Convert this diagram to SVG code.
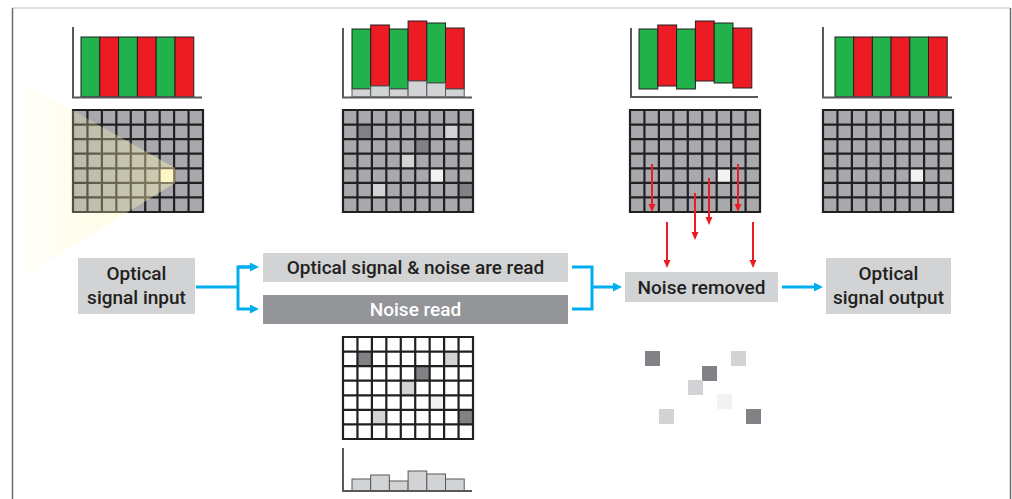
<svg xmlns="http://www.w3.org/2000/svg" width="1012" height="499" viewBox="0 0 1012 499">
<style>
.lbl{font-family:Roboto,"Open Sans",sans-serif;font-weight:500;font-size:19px;fill:#231f20;text-anchor:middle}
.lblw{fill:#ffffff}
.box{fill:#d1d3d4}
.boxd{fill:#939598}
.blue{fill:none;stroke:#00aeef;stroke-width:3}
.red{fill:none;stroke:#ed1c24;stroke-width:2}
.axis{fill:none;stroke:#58595b;stroke-width:2}
.g{fill:#21b24b;stroke:#231f20;stroke-width:1}
.r{fill:#ed1c24;stroke:#231f20;stroke-width:1}
.n{fill:#d1d3d4;stroke:#58595b;stroke-width:1}
.cell{fill:#a7a9ac}
.dk{fill:#808285}
.lt{fill:#d1d3d4}
.vl{fill:#f1f2f2}
</style>
<defs>
<marker id="ab" markerUnits="userSpaceOnUse" markerWidth="10" markerHeight="10" refX="1" refY="4.5" orient="auto"><path d="M0,0L9,4.5L0,9Z" fill="#00aeef"/></marker>
<marker id="ar" markerUnits="userSpaceOnUse" markerWidth="9" markerHeight="8" refX="1" refY="3.5" orient="auto"><path d="M0,0L8,3.5L0,7Z" fill="#ed1c24"/></marker>
<linearGradient id="beam" x1="0" y1="0" x2="1" y2="0">
<stop offset="0" stop-color="#fff7b6" stop-opacity="0.08"/>
<stop offset="0.5" stop-color="#fff7b6" stop-opacity="0.3"/>
<stop offset="1" stop-color="#fff7b6" stop-opacity="0.45"/>
</linearGradient>
<path id="gl" d="M0,0H130V102H0Z M14.44,0V102 M28.89,0V102 M43.33,0V102 M57.78,0V102 M72.22,0V102 M86.67,0V102 M101.11,0V102 M115.56,0V102 M0,14.57H130 M0,29.14H130 M0,43.71H130 M0,58.29H130 M0,72.86H130 M0,87.43H130" fill="none" stroke="#231f20" stroke-width="2.2"/>
<g id="nc">
<rect class="dk" x="14.44" y="14.57" width="14.45" height="14.57"/>
<rect class="lt" x="101.11" y="14.57" width="14.45" height="14.57"/>
<rect class="dk" x="72.22" y="29.14" width="14.45" height="14.57"/>
<rect class="lt" x="57.78" y="43.71" width="14.45" height="14.57"/>
<rect class="vl" x="86.67" y="58.29" width="14.45" height="14.57"/>
<rect class="lt" x="28.89" y="72.86" width="14.45" height="14.57"/>
<rect class="dk" x="115.56" y="72.86" width="14.45" height="14.57"/>
</g>
</defs>
<rect width="1012" height="499" fill="#ffffff"/>
<g id="frame">
<line x1="12" y1="8" x2="1010" y2="8" stroke="#bcbec0" stroke-width="1"/>
<line x1="12.5" y1="8" x2="12.5" y2="499" stroke="#6d6e71" stroke-width="1.5"/>
<line x1="1010.5" y1="8" x2="1010.5" y2="499" stroke="#6d6e71" stroke-width="1.5"/>
</g>
<g id="chart1">
<rect class="g" x="81" y="37" width="18.8" height="60"/>
<rect class="r" x="99.8" y="37" width="18.8" height="60"/>
<rect class="g" x="118.6" y="37" width="18.8" height="60"/>
<rect class="r" x="137.4" y="37" width="18.8" height="60"/>
<rect class="g" x="156.2" y="37" width="18.8" height="60"/>
<rect class="r" x="175" y="37" width="18.8" height="60"/>
<path class="axis" d="M73,27V97.5H202"/>
</g>
<g id="grid1" transform="translate(73,110)">
<rect class="cell" width="130" height="102"/>
<use href="#gl"/>
</g>
<g id="beam-light">
<polygon points="24,83 175,168 175,183 24,276" fill="url(#beam)"/>
<rect x="160.7" y="169.3" width="12.4" height="12.6" fill="#fff6c4"/>
</g>
<g id="chart2">
<rect class="g" x="352" y="29" width="18.7" height="60"/>
<rect class="r" x="370.7" y="25" width="18.7" height="61"/>
<rect class="g" x="389.4" y="29" width="18.7" height="60"/>
<rect class="r" x="408.1" y="21" width="18.7" height="60"/>
<rect class="g" x="426.8" y="23" width="18.7" height="60"/>
<rect class="r" x="445.5" y="28" width="18.7" height="61"/>
<rect class="n" x="352" y="89" width="18.7" height="8"/>
<rect class="n" x="370.7" y="86" width="18.7" height="11"/>
<rect class="n" x="389.4" y="89" width="18.7" height="8"/>
<rect class="n" x="408.1" y="81" width="18.7" height="16"/>
<rect class="n" x="426.8" y="83" width="18.7" height="14"/>
<rect class="n" x="445.5" y="89" width="18.7" height="8"/>
<path class="axis" d="M343,28V97.5H472"/>
</g>
<g id="grid2" transform="translate(343,110)">
<rect class="cell" width="130" height="102"/>
<use href="#nc"/>
<use href="#gl"/>
</g>
<g id="chart3">
<rect class="g" x="639" y="29" width="18.8" height="60"/>
<rect class="r" x="657.8" y="25" width="18.8" height="61"/>
<rect class="g" x="676.6" y="29" width="18.8" height="60"/>
<rect class="r" x="695.4" y="21" width="18.8" height="60"/>
<rect class="g" x="714.2" y="23" width="18.8" height="60"/>
<rect class="r" x="733" y="28" width="18.8" height="60"/>
<path class="axis" d="M631,28V97H758"/>
</g>
<g id="grid3" transform="translate(630,110)">
<rect class="cell" width="130" height="102"/>
<rect class="vl" x="86.67" y="58.29" width="14.45" height="14.57"/>
<use href="#gl"/>
</g>
<g id="chart4">
<rect class="g" x="835" y="37" width="18.7" height="60"/>
<rect class="r" x="853.7" y="37" width="18.7" height="60"/>
<rect class="g" x="872.4" y="37" width="18.7" height="60"/>
<rect class="r" x="891.1" y="37" width="18.7" height="60"/>
<rect class="g" x="909.8" y="37" width="18.7" height="60"/>
<rect class="r" x="928.5" y="37" width="18.7" height="60"/>
<path class="axis" d="M823,27V97.5H952"/>
</g>
<g id="grid4" transform="translate(823,110)">
<rect class="cell" width="130" height="102"/>
<rect class="vl" x="86.67" y="58.29" width="14.45" height="14.57"/>
<use href="#gl"/>
</g>
<g id="grid5" transform="translate(343,337)">
<rect fill="#ffffff" width="130" height="102"/>
<use href="#nc"/>
<use href="#gl"/>
</g>
<g id="chart5">
<rect class="n" x="352" y="479" width="18.7" height="12"/>
<rect class="n" x="370.7" y="475" width="18.7" height="16"/>
<rect class="n" x="389.4" y="481" width="18.7" height="10"/>
<rect class="n" x="408.1" y="471" width="18.7" height="20"/>
<rect class="n" x="426.8" y="474" width="18.7" height="17"/>
<rect class="n" x="445.5" y="479" width="18.7" height="12"/>
<path class="axis" d="M343,448V491H472"/>
</g>
<g id="noise-scatter">
<rect class="dk" x="645" y="351" width="15" height="15"/>
<rect class="lt" x="731" y="351" width="15" height="15"/>
<rect class="dk" x="702" y="366" width="15" height="15"/>
<rect class="lt" x="688" y="380" width="15" height="15"/>
<rect class="vl" x="717" y="394" width="15" height="15"/>
<rect class="lt" x="659" y="409" width="15" height="15"/>
<rect class="dk" x="746" y="409" width="15" height="15"/>
</g>
<g id="connectors">
<path class="blue" d="M196,287H238"/>
<path class="blue" d="M251,267H238V309H251" marker-end="url(#ab)"/>
<path class="blue" d="M238,267H251" marker-end="url(#ab)"/>
<path class="blue" d="M572,267H592V309H572"/>
<path class="blue" d="M592,287H614" marker-end="url(#ab)"/>
<path class="blue" d="M782,287H815" marker-end="url(#ab)"/>
<path class="red" d="M652,164V205" marker-end="url(#ar)"/>
<path class="red" d="M738,164V205" marker-end="url(#ar)"/>
<path class="red" d="M709,178V218" marker-end="url(#ar)"/>
<path class="red" d="M695,193V233" marker-end="url(#ar)"/>
<path class="red" d="M667,222V261" marker-end="url(#ar)"/>
<path class="red" d="M753,222V261" marker-end="url(#ar)"/>
</g>
<g id="node-input">
<rect class="box" x="78" y="258" width="117" height="56"/>
<text class="lbl" x="136.5" y="280">Optical</text>
<text class="lbl" x="136.5" y="304">signal input</text>
</g>
<g id="node-signal-noise">
<rect class="box" x="263" y="253" width="305" height="29"/>
<text class="lbl" x="415.5" y="274">Optical signal &amp; noise are read</text>
</g>
<g id="node-noise-read">
<rect class="boxd" x="263" y="295" width="305" height="29"/>
<text class="lbl lblw" x="415.5" y="316">Noise read</text>
</g>
<g id="node-noise-removed">
<rect class="box" x="625" y="272" width="153" height="30"/>
<text class="lbl" x="701.5" y="294">Noise removed</text>
</g>
<g id="node-output">
<rect class="box" x="826" y="258" width="125" height="56"/>
<text class="lbl" x="888.5" y="280">Optical</text>
<text class="lbl" x="888.5" y="304">signal output</text>
</g>
</svg>
